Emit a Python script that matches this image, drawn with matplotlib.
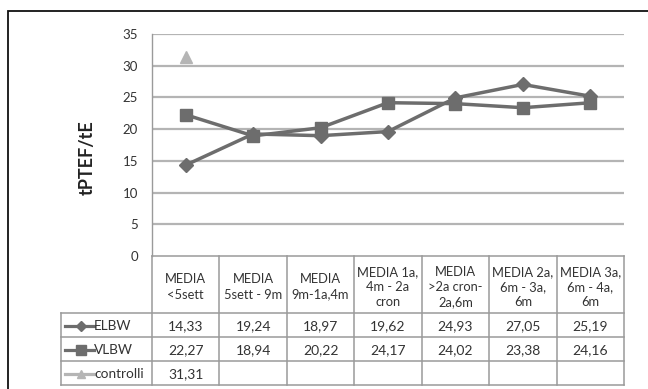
import matplotlib
matplotlib.use("Agg")
import matplotlib.pyplot as plt
from matplotlib.lines import Line2D
from matplotlib.patches import Rectangle
import matplotlib.transforms as mtransforms

plt.rcParams['font.family'] = ['Lato', 'DejaVu Sans']

categories = ["MEDIA\n<5sett", "MEDIA\n5sett - 9m", "MEDIA\n9m-1a,4m",
              "MEDIA 1a,\n4m - 2a\ncron", "MEDIA\n>2a cron-\n2a,6m",
              "MEDIA 2a,\n6m - 3a,\n6m", "MEDIA 3a,\n6m - 4a,\n6m"]
elbw = [14.33, 19.24, 18.97, 19.62, 24.93, 27.05, 25.19]
vlbw = [22.27, 18.94, 20.22, 24.17, 24.02, 23.38, 24.16]
controlli = [31.31]
series_names = ["ELBW", "VLBW", "controlli"]
y_ticks = [0, 5, 10, 15, 20, 25, 30, 35]
y_label = "tPTEF/tE"

W, H = 648, 389
fig = plt.figure(figsize=(W / 100, H / 100), dpi=100)

def fx(px):
    return px / W

def fy(py):
    return 1 - py / H

ax_l, ax_r, ax_t, ax_b = 152, 624, 34, 256
ax = fig.add_axes([fx(ax_l), fy(ax_b), fx(ax_r - ax_l), (ax_b - ax_t) / H])

dark = "#6d6d6d"
light = "#b5b5b5"
grid_c = "#b4b4b4"
table_c = "#9a9a9a"
text_c = "#333333"

x = list(range(len(categories)))
ax.set_xlim(-0.5, len(categories) - 0.5)
ax.set_ylim(0, 35)
ax.set_yticks(y_ticks)
ax.set_yticklabels([str(v) for v in y_ticks], fontsize=9.5, color=text_c)
ax.tick_params(axis='y', length=0, pad=10)
ax.set_xticks([])
for sp in ["top", "right", "bottom"]:
    ax.spines[sp].set_visible(False)
ax.spines["left"].set_color(table_c)
ax.spines["left"].set_linewidth(1.0)
for v in y_ticks[1:]:
    ax.axhline(v, color=grid_c, lw=1.6, zorder=1)

ax.plot(x, elbw, color=dark, lw=2.5, marker="D", ms=7, zorder=3, clip_on=False)
ax.plot(x, vlbw, color=dark, lw=2.5, marker="s", ms=8.5, zorder=3, clip_on=False)
ax.plot(x[:len(controlli)], controlli, color=light, lw=2.5, marker="^", ms=8,
        linestyle="none", zorder=3, clip_on=False)

ax.set_ylabel(y_label, fontsize=13, fontweight="bold", color="#222222")
ax.yaxis.set_label_coords((96 - ax_l) / (ax_r - ax_l), (ax_b - 158) / (ax_b - ax_t))

# Table
trans = mtransforms.blended_transform_factory(ax.transData, fig.transFigure)
tbl_left = 61
hdr_top, hdr_bot = 256, 313
row_h = 24
n_rows = 3
row_tops = [hdr_bot + i * row_h for i in range(n_rows + 1)]
tbl_bot = row_tops[-1]

def hline(y, x0, x1):
    fig.add_artist(Line2D([fx(x0), fx(x1)], [fy(y), fy(y)], color=table_c, lw=1.1))

def vline(xp, y0, y1):
    fig.add_artist(Line2D([fx(xp), fx(xp)], [fy(y0), fy(y1)], color=table_c, lw=1.1))

hline(hdr_top, ax_l, ax_r)
for yy in row_tops:
    hline(yy, tbl_left, ax_r)
vline(tbl_left, hdr_bot, tbl_bot)
for i in range(len(categories) + 1):
    xb = i - 0.5
    fig.add_artist(Line2D([xb, xb], [fy(hdr_top), fy(tbl_bot)], color=table_c, lw=1.1,
                          transform=trans))

for i, lab in enumerate(categories):
    fig.text(i, fy(287), lab, transform=trans, ha="center",
             va="center", fontsize=9.3, color=text_c, linespacing=1.32)

row_data = [elbw, vlbw, controlli]
styles = [(dark, "D", 5.5), (dark, "s", 6.5), (light, "^", 6)]
for r, (name, vals, st) in enumerate(zip(series_names, row_data, styles)):
    yc = (row_tops[r] + row_tops[r + 1]) / 2 + 1
    c, m, ms = st
    fig.add_artist(Line2D([fx(65), fx(94)], [fy(yc), fy(yc)], color=c, lw=2.3))
    fig.add_artist(Line2D([fx(81)], [fy(yc)], color=c, marker=m, ms=ms, lw=0))
    fig.text(fx(94), fy(yc), name, ha="left", va="center", fontsize=9.8, color=text_c)
    for i, v in enumerate(vals):
        fig.text(i, fy(yc), f"{v:.2f}".replace(".", ","), transform=trans,
                 ha="center", va="center", fontsize=10, color=text_c)

# Outer border
fig.add_artist(Rectangle((fx(8), fy(395)), fx(700), (395 - 11) / H, fill=False,
                         edgecolor="#111111", lw=1.3, transform=fig.transFigure))

fig.savefig("out.png", dpi=100)
